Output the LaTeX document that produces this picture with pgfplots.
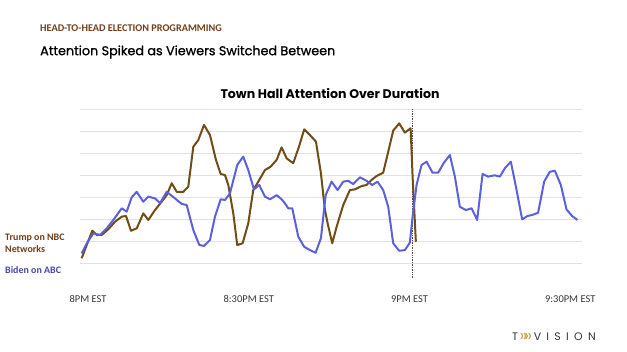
\documentclass[border=0pt]{standalone}
\usepackage{pgfplots}
\pgfplotsset{compat=1.18}
\usepackage{fontspec}
\setmainfont{Carlito}
\newfontfamily\gothic{Poppins}
\newfontfamily\gothicb{Poppins}[FakeBold=1.0]
\definecolor{trumpc}{RGB}{112,76,22}
\definecolor{bidenc}{RGB}{92,96,222}
\definecolor{trumptxt}{RGB}{112,62,28}
\definecolor{bidentxt}{RGB}{72,72,165}
\definecolor{gridc}{RGB}{226,226,226}
\definecolor{tickc}{RGB}{55,55,55}
\definecolor{goldc}{RGB}{196,160,80}
\begin{document}
\begin{tikzpicture}
\path[use as bounding box] (0,0) rectangle (627bp,352bp);
\begin{axis}[
  at={(80bp,88.7bp)}, anchor=south west,
  scale only axis, width=502bp, height=154bp,
  xmin=-1.5, xmax=92.2, ymin=0, ymax=7,
  axis line style={draw=none},
  major tick length=0pt,
  ytick={0,1,2,3,4,5,6,7}, yticklabels={},
  ymajorgrids, grid style={gridc, line width=0.8bp},
  xtick={0,30,60,90},
  xticklabels={8PM EST,8:30PM EST,9PM EST,9:30PM EST},
  xticklabel style={font=\fontsize{10.5}{12}\selectfont, text=tickc, yshift=-29bp},
  clip=false,
]
\draw[black!70, densely dotted, line width=0.7bp] (axis cs:60.5,7) -- (axis cs:60.5,-0.7);
\addplot[trumpc, line width=2bp, line join=round] coordinates {
(-1.19,0.23) (-0.24,0.83) (0.80,1.48) (1.62,1.29) (2.56,1.29) (3.79,1.55)
(5.04,1.89) (6.29,2.12) (7.09,2.15) (8.02,1.48) (9.09,1.59) (10.32,2.27)
(11.25,1.97) (12.50,2.42) (13.75,2.80) (14.68,3.10) (15.62,3.64) (16.55,3.25)
(17.78,3.25) (18.71,3.48) (19.65,5.30) (20.58,5.60) (21.64,6.29) (22.76,5.83)
(23.88,4.70) (24.76,4.06) (25.56,4.01) (26.18,3.56) (27.11,2.27) (27.85,0.83)
(28.86,0.91) (29.91,1.82) (30.84,3.33) (31.77,3.71) (33.02,4.24) (34.08,4.39)
(35.20,4.70) (36.13,5.27) (37.07,4.77) (38.30,4.55) (39.37,5.30) (40.35,6.09)
(41.42,5.83) (42.54,5.53) (43.47,4.09) (44.22,2.42) (44.72,1.82) (45.58,0.91)
(46.40,1.66) (47.63,2.65) (48.88,3.33) (49.81,3.36) (51.06,3.51) (51.99,3.56)
(52.93,3.79) (53.86,3.97) (55.09,4.12) (56.03,5.07) (56.96,6.03) (58.08,6.36)
(59.14,5.94) (60.21,6.14) (60.58,3.94) (61.19,0.98)
};
\addplot[bidenc, line width=2bp, line join=round] coordinates {
(-1.19,0.45) (-0.24,0.91) (0.99,1.36) (2.24,1.29) (3.49,1.59) (4.72,1.97)
(6.29,2.50) (7.22,2.35) (8.15,3.00) (9.09,3.25) (10.32,2.80) (11.25,3.03)
(12.50,2.95) (13.43,2.73) (14.68,3.25) (16.23,2.95) (17.48,2.70) (18.41,2.65)
(19.65,1.51) (20.77,0.83) (21.64,0.79) (22.76,1.06) (23.69,2.12) (24.76,2.91)
(25.56,2.88) (26.49,3.18) (27.85,4.47) (28.97,4.85) (29.91,4.24) (30.97,3.36)
(31.96,3.56) (33.02,3.03) (33.96,2.91) (35.20,3.10) (36.13,2.91) (36.75,2.73)
(37.37,2.50) (38.12,2.50) (39.24,1.21) (40.35,0.75) (41.42,0.60) (42.48,0.48)
(43.47,1.14) (44.35,3.10) (45.46,3.71) (46.58,3.33) (47.63,3.71) (48.56,3.75)
(49.50,3.60) (50.75,3.91) (51.99,3.75) (53.04,3.56) (54.04,3.71) (55.09,3.33)
(56.03,2.57) (56.96,0.91) (58.08,0.57) (59.14,0.60) (60.07,0.94) (60.58,2.12)
(61.32,3.56) (62.26,4.47) (63.19,4.62) (64.31,4.12) (65.36,4.12) (66.42,4.57)
(67.54,4.92) (68.47,3.94) (69.40,2.57) (70.52,2.42) (71.59,2.50) (72.63,1.97)
(73.64,4.06) (74.68,3.94) (75.93,4.00) (76.87,3.94) (77.80,4.32) (78.92,4.62)
(79.98,3.33) (81.03,2.00) (82.03,2.15) (83.08,2.21) (84.01,2.30) (85.13,3.71)
(86.19,4.16) (87.13,4.21) (88.25,3.56) (89.31,2.45) (90.35,2.15) (91.36,1.97)
};
\end{axis}
\node[anchor=west, inner sep=0pt, text=trumptxt, font=\bfseries\fontsize{10.3}{12}\selectfont] at (40bp,324bp) {HEAD-TO-HEAD ELECTION PROGRAMMING};
\node[anchor=west, inner sep=0pt, font=\gothicb\fontsize{12.8}{15}\selectfont] at (40bp,300bp) {Attention Spiked as Viewers Switched Between};
\node[anchor=center, inner sep=0pt, font=\gothic\bfseries\fontsize{12.6}{16}\selectfont] at (330bp,258bp) {Town Hall Attention Over Duration};
\node[anchor=west, inner sep=0pt, text=trumptxt, font=\bfseries\fontsize{10}{11}\selectfont, align=left] at (5bp,109bp) {Trump on NBC\\[1pt]Networks};
\node[anchor=west, inner sep=0pt, text=bidentxt, font=\bfseries\fontsize{10}{11}\selectfont] at (5bp,82bp) {Biden on ABC};
\node[anchor=west, inner sep=0pt, text=black!80, font=\gothic\fontsize{11}{12}\selectfont] at (512bp,15bp) {T\kern1.5bp{\color{goldc}\fontsize{17}{17}\selectfont\raisebox{-1.2bp}{\guillemotright\kern-3bp\guillemotright}}\kern1.5bp V\kern5.3bp I\kern5.3bp S\kern5.3bp I\kern5.3bp O\kern5.3bp N};
\end{tikzpicture}
\end{document}
